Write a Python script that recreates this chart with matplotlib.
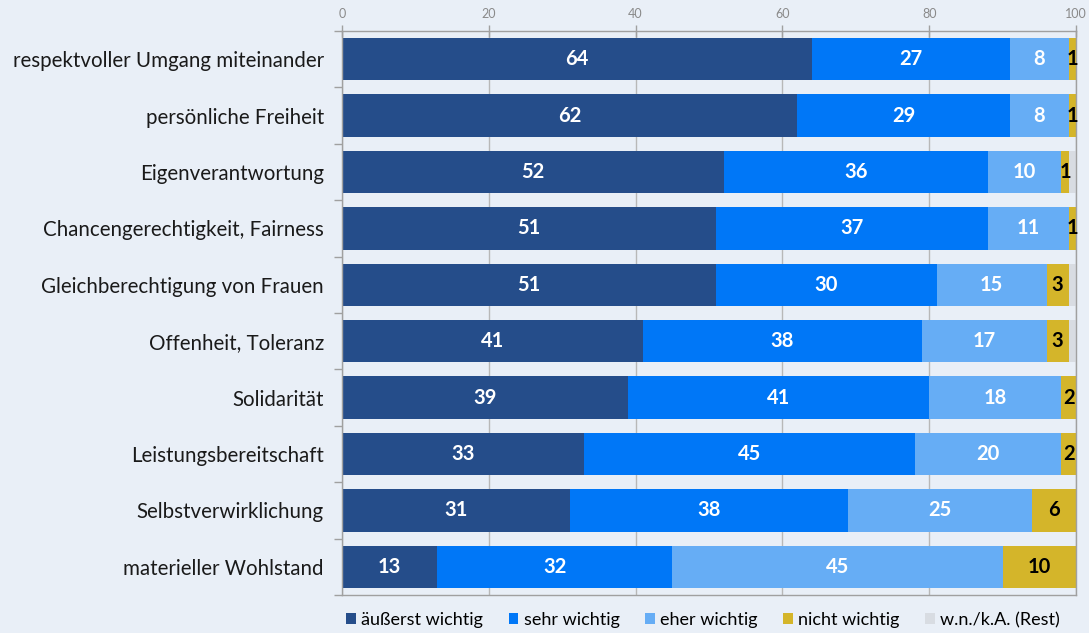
import matplotlib
matplotlib.use("Agg")
import matplotlib.pyplot as plt
from matplotlib.patches import Patch
import numpy as np

plt.rcParams['font.family'] = ['Lato', 'DejaVu Sans']

categories = [
    "respektvoller Umgang miteinander",
    "persönliche Freiheit",
    "Eigenverantwortung",
    "Chancengerechtigkeit, Fairness",
    "Gleichberechtigung von Frauen",
    "Offenheit, Toleranz",
    "Solidarität",
    "Leistungsbereitschaft",
    "Selbstverwirklichung",
    "materieller Wohlstand",
]
aeusserst = [64, 62, 52, 51, 51, 41, 39, 33, 31, 13]
sehr = [27, 29, 36, 37, 30, 38, 41, 45, 38, 32]
eher = [8, 8, 10, 11, 15, 17, 18, 20, 25, 45]
nicht = [1, 1, 1, 1, 3, 3, 2, 2, 6, 10]
rest = [0, 0, 1, 0, 1, 1, 0, 0, 0, 0]

series_names = ["äußerst wichtig", "sehr wichtig", "eher wichtig", "nicht wichtig", "w.n./k.A. (Rest)"]
series_values = [aeusserst, sehr, eher, nicht, rest]
colors = ["#254d8a", "#0077f7", "#66adf5", "#d4b52a", "#d8dce2"]
label_colors = ["white", "white", "white", "black", None]

bg = "#e9eff7"
fig = plt.figure(figsize=(10.89, 6.33), dpi=100, facecolor=bg)
ax = fig.add_axes([342 / 1089, 1 - 595 / 633, (1076 - 342) / 1089, (595 - 31) / 633])
ax.set_facecolor(bg)

y = np.arange(len(categories))
left = np.zeros(len(categories))
for name, vals, col, lc in zip(series_names, series_values, colors, label_colors):
    vals = np.array(vals, dtype=float)
    ax.barh(y, vals, left=left, height=0.75, color=col, zorder=2, label=name)
    if lc is not None:
        for yi, (l, v) in enumerate(zip(left, vals)):
            if v > 0:
                ax.text(l + v / 2, yi, f"{int(v)}", ha="center", va="center",
                        color=lc, fontsize=14.5, fontweight="bold", zorder=3)
    left += vals

ax.set_xlim(0, 100)
ax.set_ylim(len(categories) - 0.5, -0.5)
ax.set_yticks(y)
ax.set_yticklabels(categories, fontsize=14.8, color="#1a1a1a")
ax.set_yticks(np.arange(len(categories) + 1) - 0.5, minor=True)
ax.tick_params(axis="y", which="major", length=0, pad=13)
ax.tick_params(axis="y", which="minor", length=6, color="#a0a0a0", width=1)

ax.xaxis.tick_top()
ax.set_xticks([0, 20, 40, 60, 80, 100])
ax.tick_params(axis="x", labelsize=9, labelcolor="#8a8a8a", color="#a0a0a0",
               direction="inout", length=8, width=1, pad=4)
ax.grid(axis="x", color="#b8b8b8", linewidth=1, zorder=0)
for s in ax.spines.values():
    s.set_color("#a0a0a0")
    s.set_linewidth(1)

handles = [Patch(facecolor=c, edgecolor="none") for c in colors]
fig.legend(handles, series_names, loc="center left", bbox_to_anchor=(346 / 1089, 1 - 620 / 633),
           ncol=5, frameon=False, fontsize=13, handlelength=0.55, handleheight=0.55,
           handletextpad=0.3, columnspacing=1.4, borderaxespad=0, borderpad=0)

fig.savefig("out.png", dpi=100, facecolor=bg)
